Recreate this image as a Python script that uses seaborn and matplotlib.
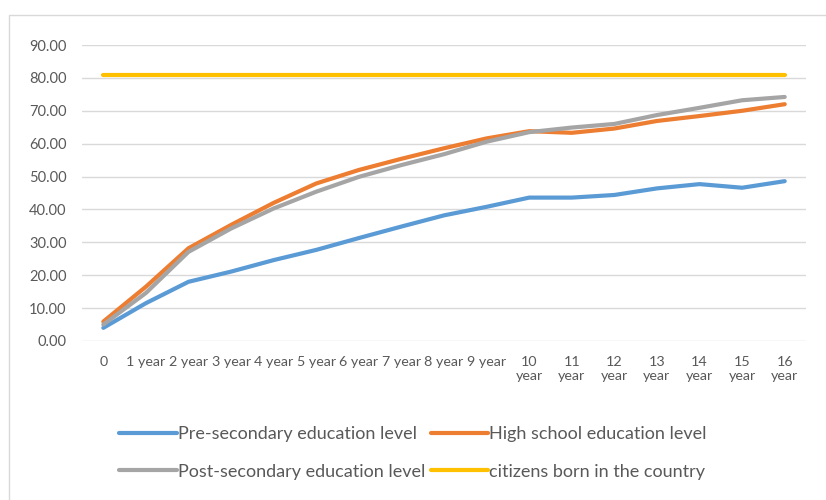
import numpy as np
import pandas as pd
import matplotlib.pyplot as plt
import seaborn as sns
from matplotlib.patches import Rectangle

years = ["0", "1 year", "2 year", "3 year", "4 year", "5 year", "6 year", "7 year",
         "8 year", "9 year", "10\nyear", "11\nyear", "12\nyear", "13\nyear",
         "14\nyear", "15\nyear", "16\nyear"]
pre_secondary = [4.0, 11.5, 18.0, 21.1, 24.6, 27.7, 31.3, 34.8, 38.2, 40.8,
                 43.6, 43.6, 44.4, 46.4, 47.7, 46.6, 48.6]
high_school = [5.9, 16.5, 28.2, 35.3, 42.0, 47.9, 52.0, 55.4, 58.6, 61.6,
               63.8, 63.3, 64.6, 66.9, 68.4, 70.0, 72.0]
post_secondary = [5.0, 14.6, 27.1, 34.2, 40.3, 45.4, 49.9, 53.5, 56.8, 60.6,
                  63.5, 64.9, 66.0, 68.7, 70.9, 73.2, 74.2]
born_in_country = [81.0] * 17

series = {
    "Pre-secondary education level": pre_secondary,
    "High school education level": high_school,
    "Post-secondary education level": post_secondary,
    "citizens born in the country": born_in_country,
}
colors = ["#5B9BD5", "#ED7D31", "#A5A5A5", "#FFC000"]

df = pd.DataFrame(series)
df["pos"] = np.arange(len(years))
long_df = df.melt(id_vars="pos", var_name="group", value_name="value")

sns.set_style("white")
plt.rcParams["font.family"] = ["Lato", "DejaVu Sans"]

fig = plt.figure(figsize=(8.26, 5.0), dpi=100)
ax = fig.add_axes([0.0993, 0.318, 0.8765, 0.592])

sns.lineplot(data=long_df, x="pos", y="value", hue="group", palette=colors,
             linewidth=3.0, ax=ax, legend=True, solid_capstyle="round")

ax.set_xlim(-0.5, 16.5)
ax.set_ylim(0, 90)
ax.set_yticks(np.arange(0, 91, 10))
ax.set_yticklabels([f"{v:.2f}" for v in np.arange(0, 91, 10)])
ax.set_xticks(np.arange(len(years)))
ax.set_xticklabels(years)
ax.yaxis.grid(True, color="#D9D9D9", linewidth=1.0)
ax.set_axisbelow(True)
ax.tick_params(axis="both", length=0, colors="#595959")
ax.tick_params(axis="x", pad=11, labelsize=10.3)
ax.tick_params(axis="y", pad=11, labelsize=10.5)
for s in ax.spines.values():
    s.set_visible(False)
ax.set_xlabel("")
ax.set_ylabel("")

# excel fills the legend row by row
handles, labels = ax.get_legend_handles_labels()
order = [0, 2, 1, 3]
ax.get_legend().remove()
fig.legend([handles[i] for i in order], [labels[i] for i in order], ncol=2,
           loc="upper left", bbox_to_anchor=(110 / 826, 1 - 417 / 500),
           frameon=False, fontsize=13, labelcolor="#595959", handlelength=3.2,
           handletextpad=0.05, columnspacing=0.3, labelspacing=1.2, borderpad=0)

fig.patches.append(Rectangle((9 / 826, -0.1), 1.2, 1 - 15 / 500 + 0.1,
                             transform=fig.transFigure, fill=False,
                             edgecolor="#D9D9D9", linewidth=1.0))

fig.savefig("out.png", dpi=100)
